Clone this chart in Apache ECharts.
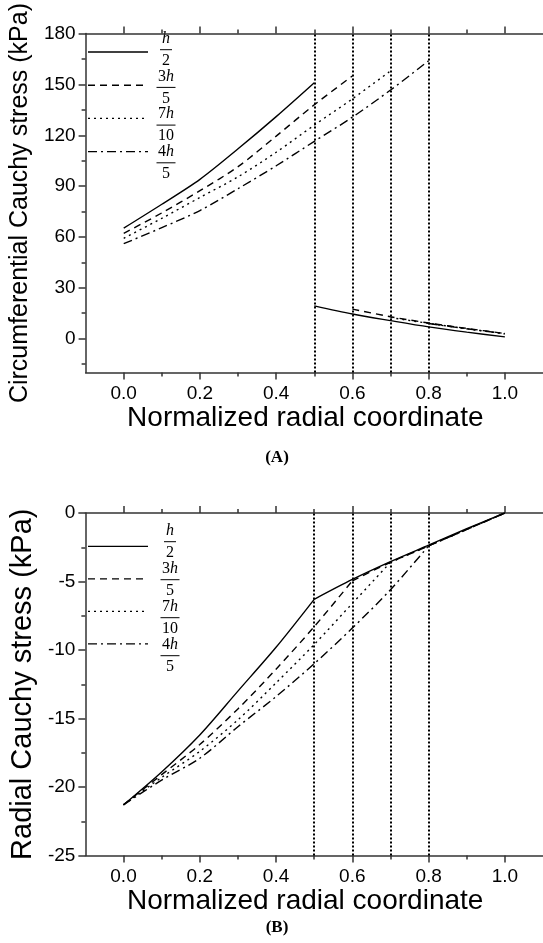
<!DOCTYPE html>
<html lang="en">
<head>
<meta charset="UTF-8">
<script src="https://cdn.jsdelivr.net/npm/echarts@6/dist/echarts.min.js"></script>
<title>Cauchy stress</title>
<style>
    html, body {margin: 0; padding: 0; background: #fff;}
    #main {width: 543px; height: 943px;}
</style>
</head>
<body>
<div id="main"></div>
<script>
    // normalized radial coordinate samples
    var rCoord = [0, 0.1, 0.2, 0.3, 0.4, 0.5, 0.6, 0.7, 0.8, 0.9, 1.0];
    // interface position of each case: h/2, 3h/5, 7h/10, 4h/5
    var interfaces = [0.5, 0.6, 0.7, 0.8];
    var legendNum = ['h', '3h', '7h', '4h'];
    var legendDen = ['2', '5', '10', '5'];

    // tick positions
    var xMajor = [0, 0.2, 0.4, 0.6, 0.8, 1.0];
    var xMinor = [0.1, 0.3, 0.5, 0.7, 0.9];
    var circMajor = [0, 30, 60, 90, 120, 150, 180];
    var circMinor = [-15, 15, 45, 75, 105, 135, 165];
    var radMajor = [-25, -20, -15, -10, -5, 0];
    var radMinor = [-22.5, -17.5, -12.5, -7.5, -2.5];

    // (A) circumferential stress, inner layer r = 0 .. interface
    var circInH2 = [65.2, 79.3, 94, 112, 131, 151];
    var circIn3H5 = [62.1, 74.2, 87.3, 101.5, 119.5, 138, 155];
    var circIn7H10 = [59.2, 71, 83.3, 95.5, 110, 126, 141.5, 158];
    var circIn4H5 = [56, 65.5, 75.6, 88.5, 102, 116.4, 130.7, 146.7, 164];
    // (A) outer layer r = interface .. 1
    var circOutH2 = [19.3, 14.5, 10.6, 6.9, 3.8, 1.0];
    var circOut3H5 = [17.4, 12.9, 9.2, 6.0, 3.0];
    var circOut7H10 = [12.4, 9.0, 5.8, 2.8];
    var circOut4H5 = [8.9, 5.8, 3.0];

    // (B) radial stress, whole wall r = 0 .. 1
    var radH2 = [-21.3, -18.9, -16.2, -13.0, -9.8, -6.3, -4.85, -3.55, -2.35, -1.15, 0];
    var rad3H5 = [-21.3, -19.1, -16.9, -14.3, -11.4, -8.3, -4.95, -3.6, -2.4, -1.2, 0];
    var rad7H10 = [-21.3, -19.3, -17.4, -15.1, -12.4, -9.6, -6.6, -3.6, -2.4, -1.2, 0];
    var rad4H5 = [-21.3, -19.5, -17.9, -15.6, -13.4, -11.0, -8.4, -5.6, -2.4, -1.2, 0];

    var circIn = [circInH2, circIn3H5, circIn7H10, circIn4H5];
    var circOut = [circOutH2, circOut3H5, circOut7H10, circOut4H5];
    var rad = [radH2, rad3H5, rad7H10, rad4H5];

    var dashTypes = ['solid', [7, 5], [2, 4], [9, 4, 2, 4]];
    var FONT = '"Liberation Sans", Arial, sans-serif';
    var SERIF = '"Liberation Serif", "DejaVu Serif", serif';
    var AXIS_COLOR = '#333';

    var chartDom = document.getElementById('main');
    var myChart = echarts.init(chartDom);

    function pairs(startIdx, vals) {
        return vals.map(function (v, i) { return [rCoord[startIdx + i], v]; });
    }

    // 4 x axes per grid: bottom major/minor, top major/minor
    function makeXAxes(gridIndex, nameGap) {
        var base = {
            type: 'value', gridIndex: gridIndex, min: -0.1, max: 1.1,
            splitLine: {show: false}
        };
        var lineOn = {show: true, onZero: false, lineStyle: {color: AXIS_COLOR, width: 1.5}};
        var lineOff = {show: false, onZero: false};
        return [
            Object.assign({}, base, {
                position: 'bottom', axisLine: lineOn,
                axisTick: {customValues: xMajor, length: 7, lineStyle: {color: AXIS_COLOR, width: 1.5}},
                axisLabel: {customValues: xMajor, fontSize: 19, fontFamily: FONT, color: '#000', margin: 12,
                    formatter: function (v) { return v.toFixed(1); }},
                name: 'Normalized radial coordinate', nameLocation: 'middle', nameGap: nameGap,
                nameTextStyle: {fontSize: 28, fontFamily: FONT, color: '#000', padding: [0, 18, 0, 0]}
            }),
            Object.assign({}, base, {
                position: 'bottom', axisLine: lineOff,
                axisTick: {customValues: xMinor, length: 4, lineStyle: {color: AXIS_COLOR, width: 1.5}},
                axisLabel: {show: false}
            }),
            Object.assign({}, base, {
                position: 'top', axisLine: lineOn,
                axisTick: {customValues: xMajor, length: 7, lineStyle: {color: AXIS_COLOR, width: 1.5}},
                axisLabel: {show: false}
            }),
            Object.assign({}, base, {
                position: 'top', axisLine: lineOff,
                axisTick: {customValues: xMinor, length: 4, lineStyle: {color: AXIS_COLOR, width: 1.5}},
                axisLabel: {show: false}
            })
        ];
    }

    function makeYAxes(gridIndex, min, max, major, minor, name, nameSize, nameGap) {
        var base = {type: 'value', gridIndex: gridIndex, min: min, max: max, position: 'left', splitLine: {show: false}};
        return [
            Object.assign({}, base, {
                axisLine: {show: true, onZero: false, lineStyle: {color: AXIS_COLOR, width: 1.5}},
                axisTick: {customValues: major, length: 7, lineStyle: {color: AXIS_COLOR, width: 1.5}},
                axisLabel: {customValues: major, fontSize: 19, fontFamily: FONT, color: '#000', margin: 10},
                name: name, nameLocation: 'middle', nameGap: nameGap,
                nameTextStyle: {fontSize: nameSize, fontFamily: FONT, color: '#000'}
            }),
            Object.assign({}, base, {
                axisLine: {show: false, onZero: false},
                axisTick: {customValues: minor, length: 4, lineStyle: {color: AXIS_COLOR, width: 1.5}},
                axisLabel: {show: false}
            })
        ];
    }

    // vertical dotted lines at each interface
    var interfaceLines = {
        silent: true, symbol: ['none', 'none'], animation: false,
        label: {show: false},
        lineStyle: {color: '#000', width: 2, type: [2, 2]},
        data: interfaces.map(function (x) { return {xAxis: x}; })
    };

    var series = [];
    for (var k = 0; k < 4; k++) {
        var idx = Math.round(interfaces[k] * 10);
        var ls = {color: '#000', width: 1.4, type: dashTypes[k]};
        series.push({
            type: 'line', xAxisIndex: 0, yAxisIndex: 0, symbol: 'none', smooth: 0.3,
            lineStyle: ls, data: pairs(0, circIn[k]),
            markLine: k === 0 ? interfaceLines : undefined
        });
        series.push({
            type: 'line', xAxisIndex: 0, yAxisIndex: 0, symbol: 'none', smooth: 0.3,
            lineStyle: ls, data: pairs(idx, circOut[k])
        });
        // radial: smooth inside each layer, keep the kink at the interface
        series.push({
            type: 'line', xAxisIndex: 4, yAxisIndex: 2, symbol: 'none', smooth: 0.3,
            lineStyle: ls, data: pairs(0, rad[k].slice(0, idx + 1)),
            markLine: k === 0 ? interfaceLines : undefined
        });
        series.push({
            type: 'line', xAxisIndex: 4, yAxisIndex: 2, symbol: 'none', smooth: 0.3,
            lineStyle: ls, data: pairs(idx, rad[k].slice(idx))
        });
    }

    // legend with fraction labels
    function legendGraphics(gridTop, sampleOff, sampleStep, barOff, barStep, fracX) {
        var els = [];
        for (var i = 0; i < 4; i++) {
            var sy = gridTop + sampleOff + sampleStep * i;
            var by = gridTop + barOff + barStep * i;
            var t = dashTypes[i];
            els.push({
                type: 'line', silent: true,
                shape: {x1: 88, y1: sy, x2: 148, y2: sy},
                style: {stroke: '#000', lineWidth: 1.4, lineDash: t === 'solid' ? null : t}
            });
            var digits = legendNum[i].replace('h', '');
            var numText = (digits ? '{n|' + digits + '}' : '') + '{i|h}';
            els.push({
                type: 'text', silent: true, x: fracX, y: by - 11,
                style: {
                    text: numText, align: 'center', verticalAlign: 'middle',
                    rich: {
                        n: {fontSize: 16, fontFamily: SERIF, fill: '#000'},
                        i: {fontSize: 16, fontFamily: SERIF, fontStyle: 'italic', fill: '#000'}
                    }
                }
            });
            var w = (legendNum[i].length > 1 || legendDen[i].length > 1) ? 19 : 12;
            els.push({
                type: 'line', silent: true,
                shape: {x1: fracX - w / 2, y1: by, x2: fracX + w / 2, y2: by},
                style: {stroke: '#000', lineWidth: 1}
            });
            els.push({
                type: 'text', silent: true, x: fracX, y: by + 11,
                style: {text: legendDen[i], align: 'center', verticalAlign: 'middle',
                    fontSize: 16, fontFamily: SERIF, fill: '#000'}
            });
        }
        return els;
    }

    var graphics = []
        .concat(legendGraphics(28, 24, 33.2, 21.7, 37.7, 166))
        .concat(legendGraphics(513, 33.4, 32.5, 28.7, 38, 170));
    graphics.push({type: 'text', silent: true, x: 277, y: 458,
        style: {text: '(A)', align: 'center', verticalAlign: 'middle', fontSize: 17, fontWeight: 'bold', fontFamily: SERIF, fill: '#000'}});
    graphics.push({type: 'text', silent: true, x: 277, y: 928,
        style: {text: '(B)', align: 'center', verticalAlign: 'middle', fontSize: 17, fontWeight: 'bold', fontFamily: SERIF, fill: '#000'}});

    var option = {
        animation: false,
        backgroundColor: '#fff',
        grid: [
            {left: 82, right: -5, top: 28, height: 344.5},
            {left: 82, right: -5, top: 513, height: 342.5}
        ],
        xAxis: makeXAxes(0, 31).concat(makeXAxes(1, 30)),
        yAxis: makeYAxes(0, -20, 180, circMajor, circMinor, 'Circumferential Cauchy stress (kPa)', 25, 43)
            .concat(makeYAxes(1, -25, 0, radMajor, radMinor, 'Radial Cauchy stress (kPa)', 29, 37)),
        series: series,
        graphic: graphics
    };
    myChart.setOption(option);
</script>
</body>
</html>
